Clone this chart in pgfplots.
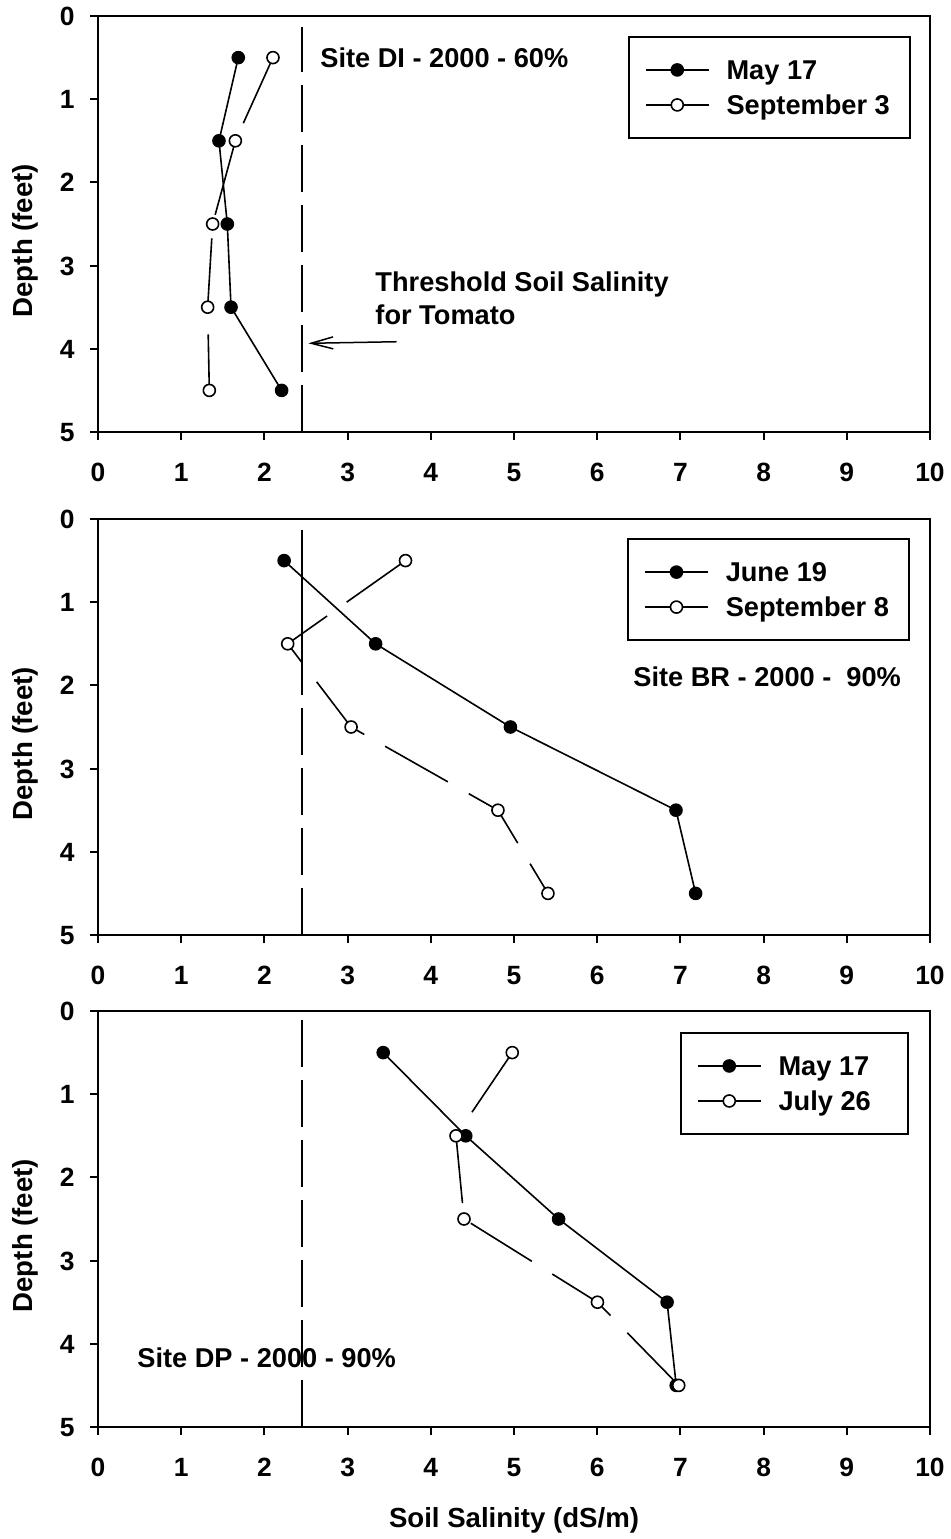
\documentclass[border=0pt]{standalone}
\usepackage{fontspec}
\setmainfont{Liberation Sans}
\usepackage{pgfplots}
\pgfplotsset{compat=1.18}
\usetikzlibrary{arrows.meta}

\pgfplotsset{
  panel/.style={
    scale only axis, width=416pt, height=208pt,
    xmin=0, xmax=10, ymin=0, ymax=5, y dir=reverse,
    xtick={0,1,...,10}, ytick={0,1,...,5},
    xtick pos=left, ytick pos=left,
    tick align=outside, major tick length=4pt,
    axis line style={line width=1pt},
    every tick/.style={black, line width=1pt},
    tick label style={font=\fontsize{13.2}{15}\selectfont\bfseries, /pgf/number format/assume math mode=true},
    yticklabel style={anchor=east, inner sep=0pt, text height=9.45pt, text depth=0pt, xshift=-7.5pt},
    xticklabel style={anchor=north, inner sep=0pt, text height=9.45pt, text depth=0pt, yshift=-11pt},
    ylabel style={at={(axis description cs:-0.0877,0.46)}, anchor=center, font=\fontsize{13.8}{16}\selectfont\bfseries},
    xlabel style={at={(axis description cs:0.5,-0.2236)}, anchor=center, font=\fontsize{13.8}{16}\selectfont\bfseries},
    legend cell align=left,
    legend image code/.code={\draw[mark repeat=2,mark phase=2,#1] plot coordinates {(0pt,0pt) (15.75pt,0pt) (31.5pt,0pt)};},
    legend style={anchor=north west, draw=black, line width=1pt, inner xsep=8pt, inner ysep=11.6pt,
      row sep=7.75pt, column sep=8.5pt, font=\fontsize{13.6}{16}\selectfont\bfseries,
      nodes={inner sep=0pt, text height=9.75pt, text depth=0pt}},
  },
  filled/.style={black, line width=0.8pt, mark=*, mark size=3pt, mark options={solid, fill=black}},
  open/.style={black, line width=0.8pt, dash pattern=on 36pt off 12pt, mark=*, mark size=3pt, mark options={solid, fill=white}},
  thr/.style={black, line width=1pt, dash pattern=on 23.5pt off 6.5pt, forget plot},
}
\tikzset{lbl/.style={font=\fontsize{13.6}{16}\selectfont\bfseries, inner sep=0pt, text height=9.75pt, text depth=0pt, anchor=west}}

\begin{document}
\begin{tikzpicture}
\useasboundingbox (0,0) rectangle (475.5pt,769.5pt);

% Panel 1
\begin{axis}[panel, at={(49pt,553.5pt)}, anchor=south west, ylabel={Depth (feet)},
  legend style={at={(0.637,0.952)}}]
\addplot[thr] coordinates {(2.45,5) (2.45,0.13)};
\addplot[filled] coordinates {(1.686,0.5) (1.454,1.5) (1.554,2.5) (1.599,3.5) (2.207,4.5)};
\addlegendentry{\makebox[83.5pt][l]{May 17}}
\addplot[open] coordinates {(2.103,0.5) (1.651,1.5) (1.378,2.5) (1.318,3.5) (1.338,4.5)};
\addlegendentry{\makebox[83.5pt][l]{September 3}}
\node[lbl] at (axis cs:2.668,0.505) {Site DI - 2000 - 60\%};
\node[lbl] at (axis cs:3.33,3.197) {Threshold Soil Salinity};
\node[lbl] at (axis cs:3.33,3.594) {for Tomato};
\draw[-{Straight Barb[length=11pt,width=6pt]}, line width=0.75pt] (axis cs:3.59,3.915) -- (axis cs:2.528,3.934);
\end{axis}

% Panel 2
\begin{axis}[panel, at={(49pt,302pt)}, anchor=south west, ylabel={Depth (feet)},
  legend style={at={(0.636,0.954)}}]
\addplot[thr] coordinates {(2.45,5) (2.45,1.65)};
\addplot[thr, solid] coordinates {(2.45,1.65) (2.45,0.13)};
\addplot[filled] coordinates {(2.237,0.5) (3.337,1.5) (4.957,2.5) (6.947,3.5) (7.183,4.5)};
\addlegendentry{\makebox[83.5pt][l]{June 19}}
\addplot[open] coordinates {(3.696,0.5) (2.28,1.5) (3.042,2.5) (4.807,3.5) (5.408,4.5)};
\addlegendentry{\makebox[83.5pt][l]{September 8}}
\node[lbl] at (axis cs:6.43,1.90) {Site BR - 2000 -\ \ 90\%};
\end{axis}

% Panel 3
\begin{axis}[panel, at={(49pt,56pt)}, anchor=south west, ylabel={Depth (feet)},
  xlabel={Soil Salinity (dS/m)},
  legend style={at={(0.6995,0.9495)}}]
\addplot[thr] coordinates {(2.45,5) (2.45,0.08)};
\addplot[filled] coordinates {(3.428,0.5) (4.42,1.5) (5.536,2.5) (6.84,3.5) (6.95,4.5)};
\addlegendentry{\makebox[56.5pt][l]{May 17}}
\addplot[open] coordinates {(4.979,0.5) (4.303,1.5) (4.399,2.5) (6.003,3.5) (6.98,4.5)};
\addlegendentry{\makebox[56.5pt][l]{July 26}}
\node[lbl] at (axis cs:0.469,4.17) {Site DP - 2000 - 90\%};
\end{axis}
\end{tikzpicture}
\end{document}
